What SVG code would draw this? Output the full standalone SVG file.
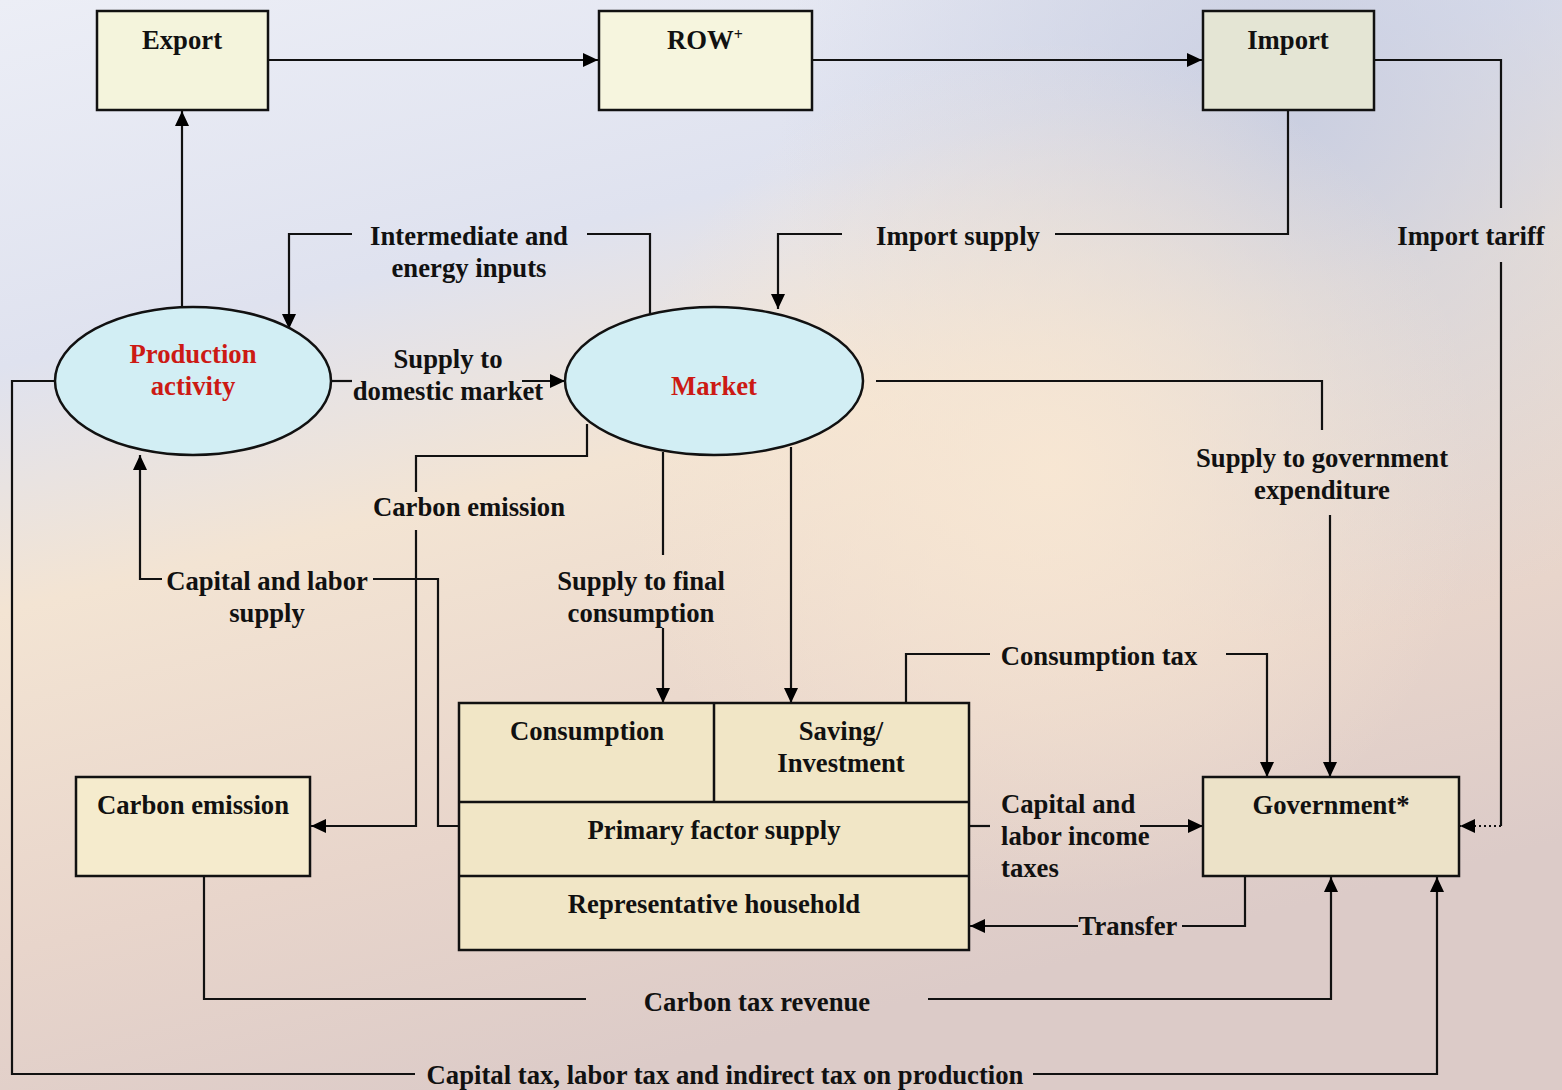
<svg xmlns="http://www.w3.org/2000/svg" width="1562" height="1090" viewBox="0 0 1562 1090">
<defs>
<linearGradient id="bg" x1="0" y1="0" x2="0.35" y2="1">
<stop offset="0" stop-color="#eceef6"/>
<stop offset="0.3" stop-color="#dfe2ef"/>
<stop offset="0.5" stop-color="#f3e4d3"/>
<stop offset="0.78" stop-color="#e8d5cb"/>
<stop offset="1" stop-color="#dccbc8"/>
</linearGradient>
<radialGradient id="blue" cx="1300" cy="120" r="520" gradientUnits="userSpaceOnUse">
<stop offset="0" stop-color="#c8cde0" stop-opacity="0.9"/>
<stop offset="1" stop-color="#c8cde0" stop-opacity="0"/>
</radialGradient>
<radialGradient id="peach" cx="1050" cy="470" r="430" gradientUnits="userSpaceOnUse">
<stop offset="0" stop-color="#f8e7d3" stop-opacity="0.95"/>
<stop offset="1" stop-color="#f8e7d3" stop-opacity="0"/>
</radialGradient>
<marker id="ah" viewBox="0 0 15 14" refX="15" refY="7" markerWidth="15" markerHeight="14" markerUnits="userSpaceOnUse" orient="auto">
<path d="M0,0 L15,7 L0,14 z" fill="#000"/>
</marker>
<style>
.t{font-family:"Liberation Serif","Times New Roman",serif;font-weight:bold;font-size:26.7px;fill:#111;text-anchor:middle}
.l{text-anchor:start}
.red{fill:#cc1a14}
.box{stroke:#111;stroke-width:2.5}
.ell{fill:#d2eef4;stroke:#111;stroke-width:2.5}
.c{fill:none;stroke:#111;stroke-width:2.2}
.a{marker-end:url(#ah)}
.dot{stroke-dasharray:2 3}
</style>
</defs>
<rect width="1562" height="1090" fill="url(#bg)"/>
<rect width="1562" height="1090" fill="url(#blue)"/>
<rect width="1562" height="1090" fill="url(#peach)"/>

<g id="connectors">
<path class="c a" d="M268,60 H598"/>
<path class="c a" d="M812,60 H1202"/>
<path class="c" d="M1374,60 H1501 V208"/>
<path class="c" d="M1501,262 V826"/>
<path class="c dot a" d="M1501,826 H1460"/>
<path class="c" d="M1288,110 V234 H1055"/>
<path class="c a" d="M842,234 H778 V309"/>
<path class="c" d="M650,314 V234 H587"/>
<path class="c a" d="M352,234 H289 V329"/>
<path class="c a" d="M182,307 V111"/>
<path class="c" d="M331,381 H352"/>
<path class="c a" d="M522,381 H565"/>
<path class="c" d="M55,381 H12 V1074 H415"/>
<path class="c a" d="M1033,1074 H1437 V877"/>
<path class="c" d="M587,424 V456 H416 V492"/>
<path class="c a" d="M416,530 V826 H311"/>
<path class="c" d="M459,826 H438 V579 H373"/>
<path class="c a" d="M162,579 H140 V455"/>
<path class="c" d="M663,452 V555"/>
<path class="c a" d="M663,628 V703"/>
<path class="c a" d="M791,447 V703"/>
<path class="c" d="M906,703 V654 H990"/>
<path class="c a" d="M1226,654 H1267 V777"/>
<path class="c" d="M876,381 H1322 V430"/>
<path class="c a" d="M1330,515 V777"/>
<path class="c" d="M969,826 H990"/>
<path class="c a" d="M1140,826 H1203"/>
<path class="c" d="M1245,876 V926 H1182"/>
<path class="c a" d="M1078,926 H970"/>
<path class="c" d="M204,876 V999 H586"/>
<path class="c a" d="M928,999 H1331 V877"/>
</g>

<g id="labels">
<text class="t" x="469" y="245">Intermediate and</text>
<text class="t" x="469" y="277">energy inputs</text>
<text class="t" x="958" y="245">Import supply</text>
<text class="t" x="1471" y="245">Import tariff</text>
<text class="t" x="448" y="368">Supply to</text>
<text class="t" x="448" y="400">domestic market</text>
<text class="t" x="469" y="516">Carbon emission</text>
<text class="t" x="267" y="590">Capital and labor</text>
<text class="t" x="267" y="622">supply</text>
<text class="t" x="641" y="590">Supply to final</text>
<text class="t" x="641" y="622">consumption</text>
<text class="t" x="1322" y="467">Supply to government</text>
<text class="t" x="1322" y="499">expenditure</text>
<text class="t" x="1099" y="665">Consumption tax</text>
<text class="t l" x="1001" y="813">Capital and</text>
<text class="t l" x="1001" y="845">labor income</text>
<text class="t l" x="1001" y="877">taxes</text>
<text class="t" x="1128" y="935">Transfer</text>
<text class="t" x="757" y="1011">Carbon tax revenue</text>
<text class="t" x="725" y="1084">Capital tax, labor tax and indirect tax on production</text>
</g>

<g id="export">
<rect class="box" x="97" y="11" width="171" height="99" fill="#f4f4dc"/>
<text class="t" x="182" y="49">Export</text>
</g>
<g id="row">
<rect class="box" x="599" y="11" width="213" height="99" fill="#f6f5de"/>
<text class="t" x="705" y="49">ROW<tspan font-size="16" dy="-9">+</tspan></text>
</g>
<g id="import">
<rect class="box" x="1203" y="11" width="171" height="99" fill="#e4e5d4"/>
<text class="t" x="1288" y="49">Import</text>
</g>
<g id="production">
<ellipse class="ell" cx="193" cy="381" rx="138" ry="74"/>
<text class="t red" x="193" y="363">Production</text>
<text class="t red" x="193" y="395">activity</text>
</g>
<g id="market">
<ellipse class="ell" cx="714" cy="381" rx="149" ry="74"/>
<text class="t red" x="714" y="395">Market</text>
</g>
<g id="carbon-emission">
<rect class="box" x="76" y="777" width="234" height="99" fill="#f5ebcd"/>
<text class="t" x="193" y="814">Carbon emission</text>
</g>
<g id="household">
<rect class="box" x="459" y="703" width="510" height="247" fill="#f1e6c6"/>
<path class="box" d="M459,802 H969 M459,876 H969 M714,703 V802" fill="none"/>
<text class="t" x="587" y="740">Consumption</text>
<text class="t" x="841" y="740">Saving/</text>
<text class="t" x="841" y="772">Investment</text>
<text class="t" x="714" y="839">Primary factor supply</text>
<text class="t" x="714" y="913">Representative household</text>
</g>
<g id="government">
<rect class="box" x="1203" y="777" width="256" height="99" fill="#ece2c8"/>
<text class="t" x="1331" y="814">Government*</text>
</g>
</svg>
